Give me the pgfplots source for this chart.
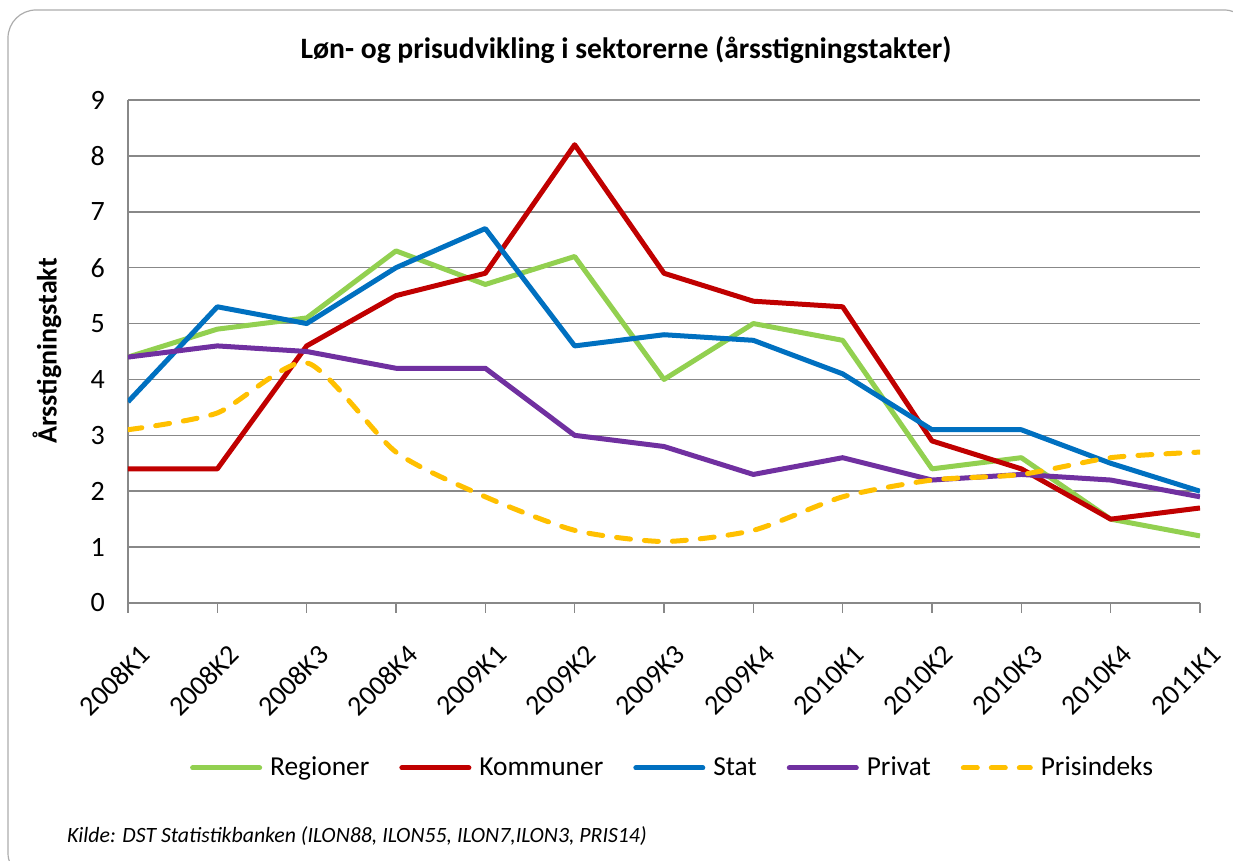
\documentclass[border=0pt]{standalone}
\usepackage{pgfplots}
\pgfplotsset{compat=1.18}
\usepackage{fontspec}
\setmainfont{Carlito}
\definecolor{cGreen}{HTML}{92D050}
\definecolor{cRed}{HTML}{C00000}
\definecolor{cBlue}{HTML}{0070C0}
\definecolor{cPurple}{HTML}{7030A0}
\definecolor{cYellow}{HTML}{FFC000}
\definecolor{cGrid}{HTML}{888888}
\begin{document}
\begin{tikzpicture}
\useasboundingbox (0,0) rectangle (616.5pt,430.5pt);
\draw[cGrid!70, line width=0.6pt, rounded corners=14pt] (4pt,-10pt) rectangle (626pt,425.5pt);
\node[font=\bfseries\fontsize{14.8}{17}\selectfont] at (313pt,405.5pt) {Løn- og prisudvikling i sektorerne (årsstigningstakter)};
\node[font=\bfseries\fontsize{14}{16}\selectfont, rotate=90] at (23.5pt,255pt) {Årsstigningstakt};
\node[font=\itshape\fontsize{10.9}{13}\selectfont, anchor=west] at (30pt,12.5pt) {Kilde: DST Statistikbanken (ILON88, ILON55, ILON7,ILON3, PRIS14)};
\begin{axis}[
  scale only axis,
  width=536pt, height=251.5pt,
  at={(64pt,129pt)}, anchor=south west,
  xmin=0, xmax=12, ymin=0, ymax=9,
  xtick={0,...,12},
  xticklabels={2008K1,2008K2,2008K3,2008K4,2009K1,2009K2,2009K3,2009K4,2010K1,2010K2,2010K3,2010K4,2011K1},
  ytick={0,...,9},
  ymajorgrids,
  grid style={cGrid, line width=0.8pt},
  axis line style={cGrid, line width=0.8pt},
  axis x line*=bottom, axis y line*=left,
  x axis line style={-}, y axis line style={-},
  xtick style={cGrid, line width=0.8pt},
  major tick length=5pt,
  xtick pos=bottom, xtick align=outside,
  ytick style={draw=none},
  /pgf/number format/assume math mode=true,
  tick label style={font=\fontsize{14}{16}\selectfont},
  yticklabel style={xshift=-8pt},
  xticklabel style={rotate=45, anchor=north east, inner sep=1pt, xshift=-6pt, yshift=-13pt},
  every axis plot/.append style={line width=2.5pt, line join=round},
  legend columns=5,
  legend style={at={(axis description cs:0.509,-0.328)}, anchor=center, draw=none, fill=none,
    font=\fontsize{13.7}{16}\selectfont, column sep=0pt,
    /tikz/every odd column/.append style={column sep=2pt},
    /tikz/every even column/.append style={column sep=13pt}},
  legend image code/.code={\draw[#1, line cap=round] (1.25pt,0pt) -- (34.75pt,0pt);},
]
\addplot[cGreen] coordinates {(0,4.4)(1,4.9)(2,5.1)(3,6.3)(4,5.7)(5,6.2)(6,4.0)(7,5.0)(8,4.7)(9,2.4)(10,2.6)(11,1.5)(12,1.2)};
\addlegendentry{Regioner}
\addplot[cRed] coordinates {(0,2.4)(1,2.4)(2,4.6)(3,5.5)(4,5.9)(5,8.2)(6,5.9)(7,5.4)(8,5.3)(9,2.9)(10,2.4)(11,1.5)(12,1.7)};
\addlegendentry{Kommuner}
\addplot[cBlue] coordinates {(0,3.6)(1,5.3)(2,5.0)(3,6.0)(4,6.7)(5,4.6)(6,4.8)(7,4.7)(8,4.1)(9,3.1)(10,3.1)(11,2.5)(12,2.0)};
\addlegendentry{Stat}
\addplot[cPurple] coordinates {(0,4.4)(1,4.6)(2,4.5)(3,4.2)(4,4.2)(5,3.0)(6,2.8)(7,2.3)(8,2.6)(9,2.2)(10,2.3)(11,2.2)(12,1.9)};
\addlegendentry{Privat}
\addplot[cYellow, smooth, tension=0.4, line cap=round, dash pattern=on 7pt off 7pt] coordinates {(0,3.1)(1,3.4)(2,4.3)(3,2.7)(4,1.9)(5,1.3)(6,1.1)(7,1.3)(8,1.9)(9,2.2)(10,2.3)(11,2.6)(12,2.7)};
\addlegendentry{Prisindeks}
\end{axis}
\end{tikzpicture}
\end{document}
